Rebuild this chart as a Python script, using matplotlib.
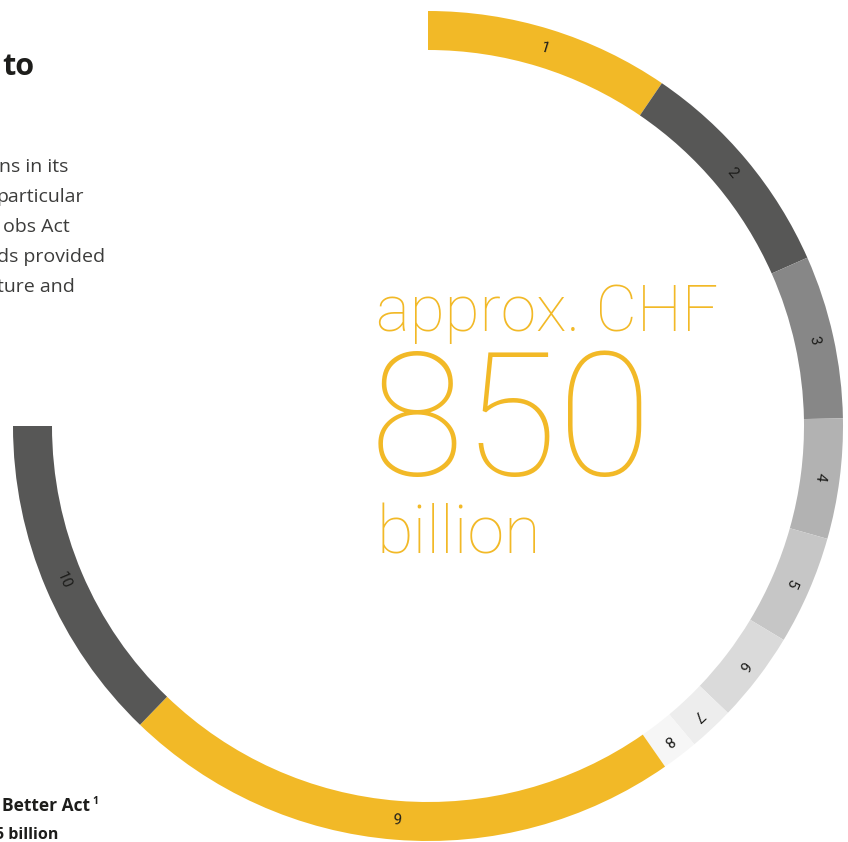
import numpy as np
import matplotlib.pyplot as plt

# данные сегментов (млрд CHF), в сумме 850
labels = ['1', '2', '3', '4', '5', '6', '7', '8', '9', '10']
values = [108, 100, 72, 53, 48, 40, 20, 16, 248, 145]
colors = ['#F2B927', '#575756', '#878787', '#B2B2B2', '#C6C6C6',
          '#DADADA', '#EDEDED', '#F6F6F6', '#F2B927', '#575756']
total = sum(values)
sweep = 270  # кольцо занимает три четверти круга

fig = plt.figure(figsize=(8.48, 8.42), dpi=100)
ax = fig.add_axes([0, 0, 1, 1])

cx, cy, r, w = 428, 416, 415, 39

# невидимый сектор заполняет оставшуюся четверть
filler = total * (360 - sweep) / sweep
ax.pie(values + [filler], colors=colors + ['none'], startangle=90,
       counterclock=False, center=(cx, cy), radius=r,
       wedgeprops=dict(width=w, linewidth=0))

# подписи номеров сегментов
cum = np.cumsum([0] + values)
for i, lab in enumerate(labels):
    mid = 90 - (cum[i] + values[i] / 2) / total * sweep
    rr = r - w / 2
    x = cx + rr * np.cos(np.radians(mid))
    y = cy + rr * np.sin(np.radians(mid))
    rot = mid - 90 if mid > -90 else mid + 90
    ax.text(x, y, lab, rotation=rot, rotation_mode='anchor', ha='center', va='center',
            fontsize=11, family='Roboto', color='#1d1d1b')

# центральный текст
yellow = '#F2B927'
ax.text(376, 842 - 331, 'approx. CHF', fontsize=46, family='Roboto', fontweight='light',
        color=yellow, ha='left', va='baseline')
ax.text(370, 842 - 475, '850', fontsize=124, family='Roboto', fontweight='light',
        color=yellow, ha='left', va='baseline')
ax.text(376, 842 - 554, 'billion', fontsize=48, family='Roboto', fontweight='light',
        color=yellow, ha='left', va='baseline')

# обрезанный текст слева
ax.text(34, 842 - 75, 'to', fontsize=22, family='Open Sans', fontweight='bold',
        color='#1d1d1b', ha='right', va='baseline')
para = [('ns in its', 68), ('particular', 84), ('obs Act', 70),
        ('ds provided', 105), ('ture and', 75)]
for k, (t, xr) in enumerate(para):
    ax.text(xr, 842 - (172 + 30 * k), t, fontsize=14, family='Open Sans',
            color='#3c3c3b', ha='right', va='baseline')
ax.text(90, 842 - 811, 'Better Act', fontsize=12.5, family='Open Sans', fontweight='bold',
        color='#1d1d1b', ha='right', va='baseline')
ax.text(92, 842 - 804, '1', fontsize=7.5, family='Open Sans', fontweight='bold',
        color='#1d1d1b', ha='left', va='baseline')
ax.text(58, 842 - 839, '5 billion', fontsize=11.5, family='Open Sans', fontweight='bold',
        color='#1d1d1b', ha='right', va='baseline')

ax.set_xlim(0, 848)
ax.set_ylim(0, 842)
ax.set_aspect('equal')
ax.axis('off')
plt.savefig('out.png', dpi=100)
